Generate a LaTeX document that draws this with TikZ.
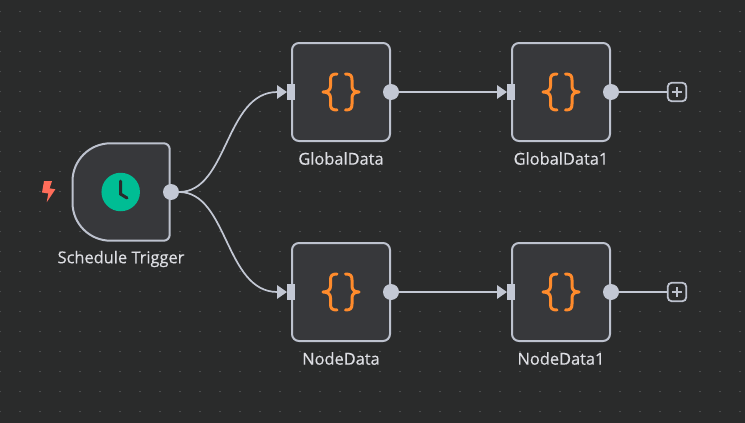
\documentclass[tikz,border=0pt]{standalone}
\usepackage{fontspec}
\setmainfont{Open Sans}[FakeBold=0.4]
\usetikzlibrary{arrows.meta}
\definecolor{bgc}{HTML}{2A2B2B}
\definecolor{boxc}{HTML}{37383B}
\definecolor{linec}{HTML}{BDC2CE}
\definecolor{portc}{HTML}{C3C8D4}
\definecolor{wirec}{HTML}{C3C8D4}
\definecolor{txtc}{HTML}{DDDEE3}
\definecolor{orng}{HTML}{FF8B2C}
\definecolor{grn}{HTML}{00BD94}
\definecolor{boltc}{HTML}{FF6D5A}
\definecolor{dotc}{HTML}{6A6C6E}
\tikzset{
  x=1pt,y=-1pt,
  flowbox/.style={draw=linec,fill=boxc,line width=2pt,rounded corners=7pt,minimum width=98pt,minimum height=98pt,inner sep=0pt,outer sep=0pt},
  anchorbox/.style={draw=none,minimum width=98pt,minimum height=98pt,inner sep=0pt},
  outport/.style={circle,fill=portc,minimum size=16pt,inner sep=0pt,outer sep=0pt},
  inport/.style={rectangle,fill=portc,minimum width=8pt,minimum height=16pt,inner sep=0pt,outer sep=0pt},
  wire/.style={draw=wirec,line width=1.7pt},
  wiretip/.style={wire,-{Triangle[length=10pt,width=13.5pt,fill=wirec]}},
  lbl/.style={text=txtc,font=\fontsize{16.4pt}{18pt}\selectfont,inner sep=0pt},
  plusbox/.style={draw=linec,fill=bgc,line width=1.8pt,rounded corners=4pt,minimum size=18.5pt,inner sep=0pt,outer sep=0pt},
  bracepath/.style={draw=orng,line width=3pt,line cap=round,line join=round},
}
\newcommand{\bracesicon}[1]{%
  \begin{scope}[shift={(#1)}]
    \draw[bracepath] (-3.5,-18) .. controls (-8.5,-18) and (-10,-16.5) .. (-10,-12) -- (-10,-6) .. controls (-10,-2.5) and (-12,0) .. (-17.5,0) .. controls (-12,0) and (-10,2.5) .. (-10,6) -- (-10,12) .. controls (-10,16.5) and (-8.5,18) .. (-3.5,18);
    \draw[bracepath] (5,-18) .. controls (10,-18) and (11.5,-16.5) .. (11.5,-12) -- (11.5,-6) .. controls (11.5,-2.5) and (13.5,0) .. (18.5,0) .. controls (13.5,0) and (11.5,2.5) .. (11.5,6) -- (11.5,12) .. controls (11.5,16.5) and (10,18) .. (5,18);
  \end{scope}}
\begin{document}
\begin{tikzpicture}
\fill[bgc] (0,0) rectangle (745,423);
\useasboundingbox (0,0) rectangle (745,423);
\foreach \i in {0,...,37}{\foreach \j in {0,...,20}{
  \fill[dotc] ({\i*20},{11.5+\j*20}) circle (0.7);}}

% trigger
\node[anchorbox] (trigger) at (121,192) {};
\draw[draw=linec,fill=boxc,line width=2pt]
  (110.5,143.3) -- (163.7,143.3) arc[start angle=-90,end angle=0,radius=6] -- (169.7,234.7) arc[start angle=0,end angle=90,radius=6]
  -- (110.5,240.7) arc[start angle=90,end angle=180,radius=38] -- (72.5,181.3) arc[start angle=180,end angle=270,radius=38] -- cycle;
\node[circle,fill=grn,minimum size=38.5pt,inner sep=0pt] (clock) at (120.7,192) {};
\draw[draw=bgc,line width=3pt,line cap=round,line join=miter] (120.5,181) -- (120.5,194) -- (127,198);
\node[inner sep=0pt,minimum size=0pt] (bolt) at (48,191) {};
\fill[boltc] (44,181.2) -- (52,181.2) -- (49.6,188.3) -- (55.3,189.3) -- (46.7,202.2) -- (48.3,193.5) -- (42,192.5) -- cycle;
\node[lbl] (tl) at (121,259) {Schedule Trigger};
\node[outport] (tout) at (171,192) {};

% boxes
\node[flowbox] (g) at (341,92) {};
\node[flowbox] (g1) at (561,92) {};
\node[flowbox] (n) at (341,292) {};
\node[flowbox] (n1) at (561,292) {};
\bracesicon{340.5,92}
\bracesicon{560.5,92}
\bracesicon{340.5,292}
\bracesicon{560.5,292}
\node[lbl] (gl) at (341,158.5) {GlobalData};
\node[lbl] (g1l) at (561,158.5) {GlobalData1};
\node[lbl] (nl) at (341,358.5) {NodeData};
\node[lbl] (n1l) at (561,358.5) {NodeData1};

% ports
\node[inport] (gi) at (291,92) {};
\node[inport] (g1i) at (511,92) {};
\node[inport] (ni) at (291,292) {};
\node[inport] (n1i) at (511,292) {};
\node[outport] (go) at (391,92) {};
\node[outport] (g1o) at (611,92) {};
\node[outport] (no) at (391,292) {};
\node[outport] (n1o) at (611,292) {};
\node[plusbox] (gp) at (677,92) {};
\node[plusbox] (np) at (677,292) {};
\draw[draw=linec,line width=1.8pt] (672,92) -- (682,92) (677,87) -- (677,97);
\draw[draw=linec,line width=1.8pt] (672,292) -- (682,292) (677,287) -- (677,297);

% connectors
\draw[wiretip] (tout.east) .. controls (228,192) and (225,92) .. (gi.west);
\draw[wiretip] (tout.east) .. controls (228,192) and (225,292) .. (ni.west);
\draw[wiretip] (go.east) -- (g1i.west);
\draw[wiretip] (no.east) -- (n1i.west);
\draw[wire] (g1o.east) -- (gp.west);
\draw[wire] (n1o.east) -- (np.west);
\end{tikzpicture}
\end{document}
